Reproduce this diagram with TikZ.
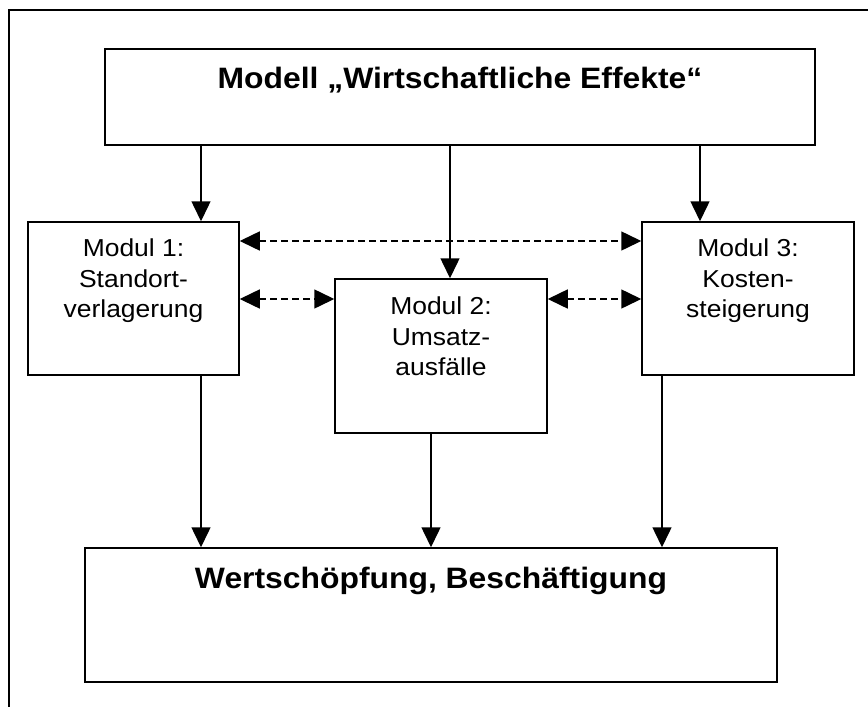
\documentclass[tikz,border=0pt]{standalone}
\usepackage{fontspec}
\setmainfont{Liberation Sans}[FakeStretch=1.08]
\usetikzlibrary{arrows.meta,calc}
\begin{document}
\begin{tikzpicture}[x=1pt,y=-1pt,
  boxnode/.style={draw,line width=1.5pt,rectangle,inner sep=0pt},
  modtext/.style={inner sep=0pt,align=center,font=\fontsize{24.5}{30.5}\selectfont},
  headtext/.style={inner sep=0pt,font=\fontsize{29.5}{35}\selectfont\bfseries},
  arr/.style={line width=1.5pt,-{Triangle[length=20pt,width=19pt]}},
  darr/.style={line width=1.5pt,dash pattern=on 7pt off 4pt,{Triangle[length=20pt,width=19pt]}-{Triangle[length=20pt,width=19pt]}}]
\useasboundingbox (0,0) rectangle (868,707);
\fill[white] (0,0) rectangle (868,707);
% outer frame (cropped)
\draw[line width=2.4pt] (9,707) -- (9,10) -- (868,10);
% boxes
\node[boxnode,minimum width=710pt,minimum height=96pt] (top) at (460,97) {};
\node[boxnode,minimum width=211pt,minimum height=153pt] (m1) at (133.5,298.5) {};
\node[boxnode,minimum width=212pt,minimum height=154pt] (m2) at (441,356) {};
\node[boxnode,minimum width=212pt,minimum height=153pt] (m3) at (748,298.5) {};
\node[boxnode,minimum width=692pt,minimum height=134pt] (bot) at (431,615) {};
% texts
\node[headtext,anchor=base] (toptext) at (460,88) {Modell „Wirtschaftliche Effekte“};
\node[headtext,anchor=base] (bottext) at (431,588) {Wertschöpfung, Beschäftigung};
\node[modtext,anchor=north] (m1text) at (133.5,239) {Modul 1:\\Standort-\\verlagerung};
\node[modtext,anchor=north] (m2text) at (441,297) {Modul 2:\\Umsatz-\\ausfälle};
\node[modtext,anchor=north] (m3text) at (748,239) {Modul 3:\\Kosten-\\steigerung};
% column / row coordinates
\coordinate (ca) at (201,0);
\coordinate (cb) at (450,0);
\coordinate (cc) at (700,0);
\coordinate (cd) at (431,0);
\coordinate (ce) at (662,0);
\coordinate (r1) at (0,241);
\coordinate (r2) at (0,299);
% solid arrows
\draw[arr] (top.south -| ca) -- (m1.north -| ca);
\draw[arr] (top.south -| cb) -- (m2.north -| cb);
\draw[arr] (top.south -| cc) -- (m3.north -| cc);
\draw[arr] (m1.south -| ca) -- (bot.north -| ca);
\draw[arr] (m2.south -| cd) -- (bot.north -| cd);
\draw[arr] (m3.south -| ce) -- (bot.north -| ce);
% dashed double arrows
\draw[darr] (m1.east |- r1) -- (m3.west |- r1);
\draw[darr] (m1.east |- r2) -- (m2.west |- r2);
\draw[darr] (m2.east |- r2) -- (m3.west |- r2);
\end{tikzpicture}
\end{document}
